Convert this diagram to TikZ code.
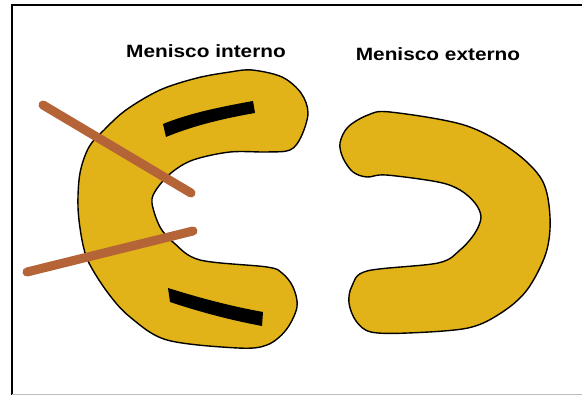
\documentclass[tikz,border=0pt]{standalone}
\usepackage{fontspec}
\setmainfont{Liberation Sans}
\definecolor{menisco}{RGB}{226,179,24}
\definecolor{aguja}{RGB}{181,100,56}
\definecolor{borde}{RGB}{190,190,190}
\begin{document}
\begin{tikzpicture}[x=1pt,y=-1pt,
  meniscus/.style={fill=menisco,draw=black,line width=1.4pt,line join=round},
  tear/.style={fill=black},
  needle/.style={draw=aguja,line width=9pt,line cap=round},
  title/.style={font=\bfseries\fontsize{17.8}{20}\selectfont,inner sep=0pt}]
\useasboundingbox (0,0) rectangle (582,395);
% frame
\draw[black,line width=2.4pt] (12,395) -- (12,5) -- (582,5);
\draw[borde,line width=1pt] (12,394.5) -- (582,394.5);

% labels
\node[title] (lint) at (206,51) {\scalebox{1.17}[1]{Menisco interno}};
\node[title] (lext) at (438,54) {\scalebox{1.17}[1]{Menisco externo}};

% medial meniscus (C shape)
\draw[meniscus] plot[smooth cycle,tension=0.55] coordinates {
  (252,70) (282,77) (301,93) (308,113) (301,137) (290,150) (267,152)
  (230,152) (193,160) (171,173) (156,190) (152,203) (160,227) (174,243)
  (200,260) (267,267) (282,273) (293,287) (297,307) (286,330) (267,345)
  (238,348) (167,340) (130,317) (108,293) (89,263) (82,240) (78,207)
  (80,173) (89,147) (104,130) (126,110) (160,90) (197,78) (230,72)};

% lateral meniscus
\draw[meniscus] plot[smooth cycle,tension=0.55] coordinates {
  (390,112) (464,125) (512,150) (542,180) (550,217) (546,253) (527,290)
  (501,313) (468,328) (408,333) (371,332) (356,321) (349,303) (352,286)
  (367,271) (438,263) (460,250) (475,233) (481,217) (475,203) (460,190)
  (438,182) (386,175) (367,177) (353,172) (343,158) (340,143) (348,127)
  (368,115)};

% tears
\fill[tear] (163,124) .. controls (190,113) and (220,107) .. (253,101)
  -- (255,113) .. controls (220,119) and (190,127) .. (166,137) -- cycle;
\fill[tear] (168,288) .. controls (200,298) and (230,306) .. (263,312)
  -- (262,326) .. controls (230,320) and (200,312) .. (170,302) -- cycle;

% needles
\coordinate (n1a) at (43,105);
\coordinate (n1b) at (191,193);
\coordinate (n2a) at (27,272);
\coordinate (n2b) at (193,231);
\draw[needle] (n1a) -- (n1b);
\draw[needle] (n2a) -- (n2b);
\end{tikzpicture}
\end{document}
